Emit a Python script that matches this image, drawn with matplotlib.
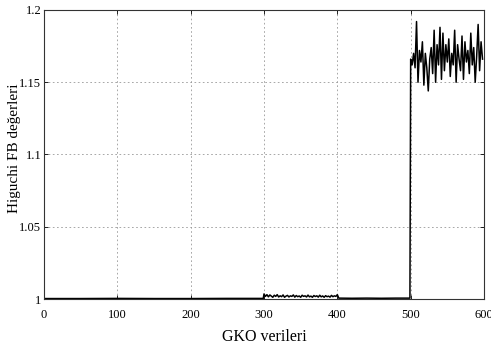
import matplotlib
matplotlib.use("Agg")
import matplotlib.pyplot as plt

plt.rcParams['font.family'] = ['Liberation Serif', 'DejaVu Serif']

# Low regime segments (sample index, value)
x_low = [0, 50, 100, 150, 200, 250, 299,
         300, 302, 304, 306, 308, 310, 312, 314, 316, 318, 320, 322, 324, 326, 328, 330,
         332, 334, 336, 338, 340, 342, 344, 346, 348, 350, 352, 354, 356, 358, 360, 362,
         364, 366, 368, 370, 372, 374, 376, 378, 380, 382, 384, 386, 388, 390, 392, 394,
         396, 398, 400,
         402, 420, 440, 460, 480, 499]
y_low = [1.0003, 1.0003, 1.0004, 1.0003, 1.0003, 1.0004, 1.0004,
         1.0035, 1.0018, 1.0030, 1.0015, 1.0028, 1.0020, 1.0012, 1.0026, 1.0018, 1.0030, 1.0014, 1.0022, 1.0016, 1.0028, 1.0012, 1.0020,
         1.0025, 1.0014, 1.0022, 1.0018, 1.0028, 1.0013, 1.0024, 1.0016, 1.0021, 1.0012, 1.0026, 1.0018, 1.0022, 1.0014, 1.0027, 1.0015,
         1.0020, 1.0012, 1.0024, 1.0017, 1.0022, 1.0013, 1.0026, 1.0015, 1.0021, 1.0012, 1.0023, 1.0016, 1.0020, 1.0013, 1.0025, 1.0016,
         1.0022, 1.0018, 1.0030,
         1.0006, 1.0005, 1.0006, 1.0005, 1.0006, 1.0006]

# High regime (samples 500..598, every 2nd)
x_high = list(range(500, 600, 2))
y_high = [1.166, 1.162, 1.170, 1.160, 1.192, 1.150, 1.172, 1.164, 1.178, 1.148,
          1.170, 1.160, 1.144, 1.166, 1.174, 1.156, 1.186, 1.150, 1.176, 1.162,
          1.188, 1.152, 1.184, 1.158, 1.176, 1.164, 1.180, 1.154, 1.170, 1.162,
          1.186, 1.150, 1.176, 1.166, 1.158, 1.182, 1.152, 1.178, 1.164, 1.172,
          1.156, 1.184, 1.162, 1.174, 1.150, 1.168, 1.190, 1.158, 1.178, 1.166]

x_ticks = [0, 100, 200, 300, 400, 500, 600]
y_ticks = [1.0, 1.05, 1.1, 1.15, 1.2]
y_tick_labels = ['1', '1.05', '1.1', '1.15', '1.2']

fig = plt.figure(figsize=(4.91, 3.52), dpi=100)
ax = fig.add_axes([44/491, 1 - 299/352, (484 - 44)/491, (299 - 10)/352])

xs = x_low + x_high
ys = y_low + y_high
ax.plot(xs, ys, color='black', linewidth=1.1)

ax.set_xlim(0, 600)
ax.set_ylim(1.0, 1.2)
ax.set_xticks(x_ticks)
ax.set_yticks(y_ticks)
ax.set_yticklabels(y_tick_labels)
ax.tick_params(direction='in', length=3, labelsize=9, width=0.6,
               top=True, right=True)
ax.tick_params(axis='x', pad=7)
ax.tick_params(axis='y', pad=2)
ax.grid(True, linestyle=(0, (2, 3)), color='#999999', linewidth=0.6)
for s in ax.spines.values():
    s.set_linewidth(0.8)
    s.set_color('#333333')

ax.set_xlabel('GKO verileri', fontsize=11.5)
ax.xaxis.set_label_coords(0.5, -0.105)
ax.set_ylabel('Higuchi FB değerleri', fontsize=11)
ax.yaxis.set_label_coords(-0.053, 0.52)

fig.savefig('out.png', dpi=100)
